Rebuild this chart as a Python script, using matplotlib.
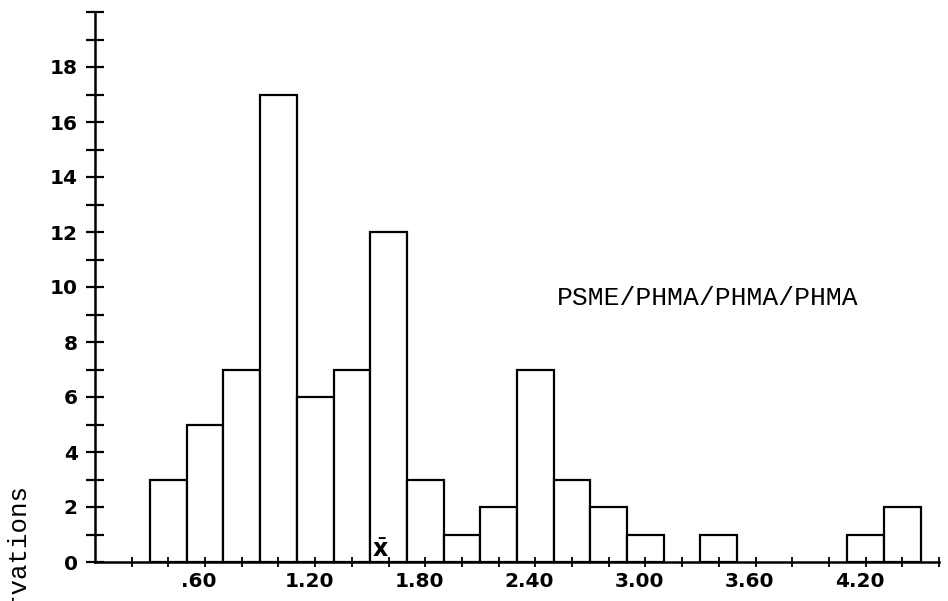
import matplotlib
matplotlib.use("Agg")
import matplotlib.pyplot as plt
import matplotlib.transforms as mtransforms
import numpy as np

# histogram bins (left edges) and counts
binLefts = [0.3, 0.5, 0.7, 0.9, 1.1, 1.3, 1.5, 1.7, 1.9, 2.1, 2.3,
            2.5, 2.7, 2.9, 3.1, 3.3, 3.5, 3.7, 3.9, 4.1, 4.3]
counts = [3, 5, 7, 17, 6, 7, 12, 3, 1, 2, 7,
          3, 2, 1, 0, 1, 0, 0, 0, 1, 2]
binWidth = 0.2
meanVal = 1.555
xLabelVals = [0.6, 1.2, 1.8, 2.4, 3.0, 3.6, 4.2]
xLabelText = ['.60', '1.20', '1.80', '2.40', '3.00', '3.60', '4.20']
yLabelVals = [0, 2, 4, 6, 8, 10, 12, 14, 16, 18]
title = 'PSME/PHMA/PHMA/PHMA'

fig = plt.figure(figsize=(9.48, 6.01), dpi=100)
ax = fig.add_axes([95/948, 39/601, 844/948, 550/601])

# only draw the non-empty bins
for left, c in zip(binLefts, counts):
    if c > 0:
        ax.bar(left, c, width=binWidth, align='edge', facecolor='white',
               edgecolor='black', linewidth=1.6)

ax.set_xlim(0, 4.6)
ax.set_ylim(0, 20)

for side in ['top', 'right']:
    ax.spines[side].set_visible(False)
for side in ['left', 'bottom']:
    ax.spines[side].set_linewidth(1.8)

ax.set_xticks(xLabelVals)
ax.set_xticklabels(xLabelText)
ax.set_xticks(np.arange(0.2, 4.61, 0.2), minor=True)
ax.set_yticks(yLabelVals)
ax.set_yticks(np.arange(1, 20.5, 1), minor=True)

ax.tick_params(axis='both', which='both', direction='inout', color='black')
ax.tick_params(axis='y', which='both', length=13, width=1.6)
ax.tick_params(axis='x', which='both', length=7, width=1.3)
ax.tick_params(axis='y', which='major', pad=6)
ax.tick_params(axis='x', which='major', pad=4)

for lbl in ax.get_xticklabels() + ax.get_yticklabels():
    lbl.set_fontfamily('DejaVu Sans')
    lbl.set_fontweight('bold')
    lbl.set_fontsize(14.5)

# labels in the scan sit a bit left of their ticks
shift = mtransforms.ScaledTranslation(-6/100, 0, fig.dpi_scale_trans)
for lbl in ax.get_xticklabels():
    lbl.set_transform(lbl.get_transform() + shift)

ax.text(2.52, 9.6, title, family='Liberation Mono', fontsize=19,
        ha='left', va='center')

# mean marker on the baseline
ax.text(meanVal, 0.0, r'$\bar{\mathbf{x}}$', fontsize=17, ha='center',
        va='bottom')

# axis title, mostly cut off by the page edge
fig.text(8/948, 1 - 486/601, 'Number of Observations', family='Liberation Mono',
         fontsize=18.5, rotation=90, ha='left', va='top')

fig.savefig('out.png', dpi=100)
